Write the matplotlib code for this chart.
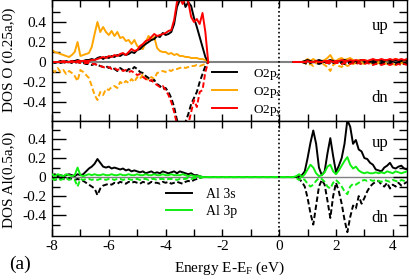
import numpy as np
import matplotlib
matplotlib.use('Agg')
import matplotlib.pyplot as plt
from matplotlib.ticker import FixedLocator

plt.rcParams['font.family'] = ['Liberation Serif', 'DejaVu Serif']
plt.rcParams['mathtext.fontset'] = 'custom'
plt.rcParams['mathtext.rm'] = 'Liberation Serif'
plt.rcParams['mathtext.it'] = 'Liberation Serif'
plt.rcParams['axes.unicode_minus'] = False

# ---------------- data ----------------
E_val = np.round(np.arange(-8.0, -2.45, 0.1), 1)   # valence grid (56 pts)
E_con = np.round(np.arange(0.5, 4.55, 0.1), 1)     # conduction grid (41 pts)

# O 2p, spin up / down, valence band
o2pz_up = [0.00,0.00,0.00,0.01,0.00,0.01,0.00,0.01,0.01,0.02,
           0.01,0.01,0.02,0.02,0.03,0.02,0.04,0.05,0.03,0.05,
           0.04,0.06,0.05,0.07,0.06,0.08,0.07,0.08,0.10,0.09,
           0.12,0.13,0.16,0.18,0.20,0.22,0.23,0.26,0.25,0.29,
           0.27,0.28,0.30,0.38,0.55,0.62,0.65,0.55,0.60,0.56,
           0.44,0.35,0.25,0.15,0.05,0.00]
o2px_up = [0.12,0.10,0.09,0.08,0.07,0.06,0.05,0.07,0.10,0.20,
           0.06,0.07,0.08,0.09,0.15,0.28,0.40,0.30,0.35,0.30,
           0.27,0.31,0.26,0.30,0.24,0.25,0.21,0.22,0.18,0.22,
           0.16,0.14,0.13,0.20,0.26,0.22,0.25,0.14,0.11,0.10,
           0.10,0.08,0.09,0.07,0.08,0.06,0.06,0.05,0.05,0.04,
           0.04,0.04,0.03,0.03,0.02,0.00]
o2py_up = [0.00,0.00,0.00,0.00,0.01,0.00,0.00,0.01,0.00,0.01,
           0.01,0.01,0.01,0.01,0.02,0.02,0.03,0.04,0.05,0.04,
           0.06,0.05,0.07,0.06,0.08,0.09,0.07,0.10,0.13,0.11,
           0.12,0.16,0.18,0.21,0.22,0.25,0.28,0.26,0.27,0.28,
           0.29,0.31,0.32,0.42,0.60,0.64,0.58,0.64,0.60,0.45,
           0.40,0.43,0.38,0.49,0.30,0.00]
o2pz_dn = [0.00,-0.01,0.00,-0.01,0.00,-0.01,0.00,-0.01,-0.01,0.00,
           -0.01,-0.01,-0.02,-0.02,-0.03,-0.02,-0.03,-0.04,-0.05,-0.04,
           -0.06,-0.05,-0.07,-0.09,-0.06,-0.08,-0.10,-0.07,-0.08,-0.05,
           -0.07,-0.10,-0.11,-0.14,-0.16,-0.19,-0.18,-0.22,-0.24,-0.27,
           -0.26,-0.30,-0.36,-0.45,-0.58,-0.65,-0.62,-0.60,-0.52,-0.42,
           -0.36,-0.30,-0.20,-0.12,-0.04,0.00]
o2px_dn = [-0.08,-0.10,-0.06,-0.10,-0.08,-0.12,-0.09,-0.11,-0.14,-0.19,
           -0.08,-0.10,-0.13,-0.16,-0.24,-0.33,-0.38,-0.30,-0.33,-0.27,
           -0.28,-0.25,-0.24,-0.26,-0.20,-0.22,-0.19,-0.21,-0.17,-0.20,
           -0.15,-0.17,-0.12,-0.16,-0.18,-0.15,-0.17,-0.11,-0.10,-0.09,
           -0.10,-0.08,-0.09,-0.07,-0.07,-0.06,-0.05,-0.06,-0.05,-0.04,
           -0.04,-0.03,-0.04,-0.03,-0.02,0.00]
o2py_dn = [0.00,0.00,0.00,0.00,0.00,-0.01,0.00,0.00,-0.01,0.00,
           -0.01,-0.01,-0.01,-0.01,-0.02,-0.02,-0.03,-0.04,-0.05,-0.06,
           -0.05,-0.07,-0.06,-0.08,-0.07,-0.09,-0.08,-0.10,-0.09,-0.11,
           -0.13,-0.12,-0.15,-0.17,-0.19,-0.18,-0.21,-0.23,-0.25,-0.24,
           -0.28,-0.33,-0.40,-0.50,-0.62,-0.60,-0.64,-0.58,-0.62,-0.50,
           -0.38,-0.45,-0.30,-0.28,-0.10,0.00]

# O 2p, conduction band
o2pz_up_c = [0.00,0.00,0.00,0.00,0.01,0.02,0.01,0.00,0.01,0.02,
             0.01,0.00,0.01,0.02,0.01,0.00,0.01,0.01,0.02,0.01,
             0.01,0.00,0.01,0.01,0.02,0.01,0.01,0.00,0.01,0.01,
             0.02,0.01,0.01,0.02,0.01,0.01,0.02,0.01,0.01,0.02,
             0.01]
o2pz_dn_c = [0.00,0.00,0.00,0.00,-0.01,-0.02,-0.01,0.00,-0.01,-0.02,
             -0.01,0.00,-0.01,-0.02,-0.01,0.00,-0.01,-0.01,-0.02,-0.01,
             -0.01,0.00,-0.01,-0.01,-0.02,-0.01,-0.01,0.00,-0.01,-0.01,
             -0.02,-0.01,-0.01,-0.02,-0.01,-0.01,-0.02,-0.01,-0.01,-0.02,
             -0.01]
o2px_up_c = [0.00,0.00,0.00,0.00,0.01,0.03,0.01,0.03,0.01,0.00,
             0.01,0.02,0.04,0.07,0.02,0.01,0.03,0.04,0.02,0.03,
             0.04,0.02,0.01,0.02,0.01,0.02,0.01,0.01,0.02,0.01,
             0.01,0.02,0.01,0.02,0.01,0.02,0.03,0.02,0.01,0.02,
             0.01]
o2px_dn_c = [0.00,0.00,0.00,0.00,-0.01,-0.03,-0.02,-0.04,-0.01,0.00,
             -0.01,-0.03,-0.05,-0.09,-0.03,-0.01,-0.04,-0.05,-0.02,-0.04,
             -0.03,-0.02,-0.01,-0.02,-0.01,-0.02,-0.01,-0.01,-0.02,-0.01,
             -0.01,-0.02,-0.01,-0.02,-0.01,-0.02,-0.03,-0.02,-0.01,-0.02,
             -0.01]
o2py_up_c = [0.00,0.00,0.00,0.00,0.00,0.01,0.00,0.00,0.01,0.00,
             0.00,0.01,0.01,0.01,0.00,0.01,0.01,0.02,0.01,0.01,
             0.02,0.01,0.02,0.01,0.02,0.02,0.01,0.02,0.03,0.02,
             0.02,0.03,0.02,0.02,0.03,0.02,0.03,0.02,0.03,0.02,
             0.03]
o2py_dn_c = [0.00,0.00,0.00,0.00,0.00,-0.01,0.00,0.00,-0.01,0.00,
             0.00,-0.01,-0.01,-0.01,0.00,-0.01,-0.01,-0.02,-0.01,-0.01,
             -0.02,-0.01,-0.02,-0.01,-0.02,-0.02,-0.01,-0.02,-0.03,-0.02,
             -0.02,-0.03,-0.02,-0.02,-0.03,-0.02,-0.03,-0.02,-0.03,-0.02,
             -0.03]

# Al 3s / 3p, valence band
al3s_up = [0.02,0.03,0.01,0.02,0.01,0.02,0.03,0.02,0.01,0.03,
           0.02,0.03,0.06,0.09,0.11,0.14,0.19,0.15,0.11,0.10,
           0.11,0.09,0.10,0.09,0.08,0.09,0.07,0.08,0.06,0.07,
           0.06,0.05,0.06,0.04,0.05,0.06,0.04,0.05,0.04,0.06,
           0.05,0.04,0.05,0.06,0.04,0.06,0.05,0.04,0.03,0.04,
           0.02,0.02,0.01,0.00,0.00,0.00]
al3s_dn = [-0.01,-0.03,-0.02,-0.01,-0.02,-0.03,-0.01,-0.02,-0.03,-0.02,
           -0.03,-0.04,-0.06,-0.08,-0.10,-0.12,-0.19,-0.12,-0.09,-0.08,
           -0.07,-0.08,-0.06,-0.07,-0.05,-0.06,-0.07,-0.05,-0.06,-0.05,
           -0.06,-0.07,-0.05,-0.06,-0.07,-0.05,-0.06,-0.06,-0.07,-0.05,
           -0.06,-0.05,-0.07,-0.06,-0.05,-0.06,-0.07,-0.05,-0.04,-0.05,
           -0.03,-0.02,-0.01,0.00,0.00,0.00]
al3p_up = [0.03,0.01,0.03,0.02,0.01,0.03,0.02,0.01,0.02,0.10,
           0.02,0.01,0.02,0.03,0.02,0.03,0.02,0.02,0.03,0.02,
           0.02,0.03,0.02,0.02,0.03,0.02,0.02,0.03,0.02,0.02,
           0.03,0.02,0.02,0.03,0.02,0.02,0.03,0.02,0.02,0.03,
           0.02,0.02,0.03,0.02,0.02,0.02,0.03,0.02,0.01,0.02,
           0.01,0.01,0.01,0.00,0.00,0.00]
al3p_dn = [-0.02,-0.03,-0.01,-0.03,-0.02,-0.01,-0.03,-0.02,-0.03,-0.10,
           -0.02,-0.03,-0.02,-0.02,-0.03,-0.02,-0.03,-0.02,-0.02,-0.03,
           -0.02,-0.02,-0.03,-0.02,-0.02,-0.03,-0.02,-0.02,-0.03,-0.02,
           -0.02,-0.03,-0.02,-0.02,-0.03,-0.02,-0.02,-0.03,-0.02,-0.02,
           -0.03,-0.02,-0.02,-0.02,-0.03,-0.02,-0.02,-0.02,-0.01,-0.02,
           -0.01,-0.01,-0.01,0.00,0.00,0.00]

# Al 3s / 3p, conduction band
al3s_up_c = [0.00,0.00,0.01,0.02,0.06,0.20,0.36,0.49,0.35,0.10,
             0.02,0.06,0.25,0.41,0.22,0.05,0.12,0.20,0.35,0.60,
             0.53,0.35,0.39,0.29,0.27,0.20,0.19,0.15,0.13,0.08,
             0.07,0.06,0.10,0.12,0.15,0.10,0.09,0.11,0.12,0.09,
             0.08]
al3s_dn_c = [0.00,0.00,-0.02,-0.05,-0.10,-0.22,-0.38,-0.50,-0.30,-0.10,
             -0.03,-0.08,-0.25,-0.43,-0.20,-0.06,-0.15,-0.28,-0.45,-0.58,
             -0.42,-0.30,-0.33,-0.20,-0.28,-0.22,-0.15,-0.10,-0.07,-0.05,
             -0.04,-0.08,-0.10,-0.06,-0.12,-0.08,-0.10,-0.06,-0.09,-0.07,
             -0.05]
al3p_up_c = [0.00,0.01,0.03,0.00,0.03,0.08,0.13,0.10,0.04,0.01,
             0.02,0.05,0.11,0.13,0.06,0.03,0.07,0.12,0.17,0.21,
             0.13,0.09,0.11,0.07,0.05,0.04,0.05,0.04,0.04,0.05,
             0.04,0.05,0.04,0.06,0.05,0.04,0.06,0.05,0.04,0.05,
             0.06]
al3p_dn_c = [0.00,-0.01,-0.03,-0.01,-0.03,-0.07,-0.10,-0.08,-0.04,-0.01,
             -0.02,-0.05,-0.10,-0.12,-0.06,-0.03,-0.06,-0.10,-0.15,-0.18,
             -0.10,-0.07,-0.08,-0.06,-0.04,-0.03,-0.04,-0.03,-0.04,-0.03,
             -0.04,-0.05,-0.03,-0.04,-0.05,-0.03,-0.04,-0.05,-0.03,-0.04,
             -0.05]

xticks = [-8, -6, -4, -2, 0, 2, 4]
yticks = [-0.4, -0.2, 0.0, 0.2, 0.4]
yticklabels = ['-0.4', '-0.2', '0', '0.2', '0.4']

# ---------------- figure ----------------
W, H = 409, 280
fig = plt.figure(figsize=(W / 100, H / 100), dpi=100)
ax1 = fig.add_axes([52 / W, 1 - 121 / H, 355 / W, 121 / H])
ax2 = fig.add_axes([52 / W, 1 - 236 / H, 355 / W, 115 / H])

BLACK, ORANGE, RED, GREEN = '#000000', '#FFA500', '#FF0000', '#11EE11'
LW = 1.4
DASH = (2.8, 1.4)

# top panel
ax1.axhline(0, color='#808080', lw=1.5, zorder=1)
handles = []
for up, dn, upc, dnc, col in [(o2px_up, o2px_dn, o2px_up_c, o2px_dn_c, ORANGE),
                              (o2pz_up, o2pz_dn, o2pz_up_c, o2pz_dn_c, BLACK),
                              (o2py_up, o2py_dn, o2py_up_c, o2py_dn_c, RED)]:
    h, = ax1.plot(E_val, up, color=col, lw=LW, zorder=2)
    ax1.plot(E_con, upc, color=col, lw=LW, zorder=2)
    ax1.plot(E_val, dn, color=col, lw=LW, dashes=DASH, zorder=2)
    ax1.plot(E_con, dnc, color=col, lw=LW, dashes=DASH, zorder=2)
    handles.append(h)
h_x, h_z, h_y = handles

# bottom panel
E_all = np.concatenate([E_val, E_con])
ax2.axhline(0, color='#808080', lw=1.0, zorder=1)
h_s, = ax2.plot(E_all, al3s_up + al3s_up_c, color=BLACK, lw=LW, zorder=2)
ax2.plot(E_all, al3s_dn + al3s_dn_c, color=BLACK, lw=LW, dashes=DASH, zorder=2)
h_p, = ax2.plot(E_all, al3p_up + al3p_up_c, color=GREEN, lw=LW, zorder=3)
ax2.plot(E_all, al3p_dn + al3p_dn_c, color=GREEN, lw=LW, dashes=DASH, zorder=3)

for ax, ylim in [(ax1, (-0.59, 0.62)), (ax2, (-0.62, 0.59))]:
    ax.axvline(0, color='k', ls=(0, (1, 1.5)), lw=1.2, zorder=4)
    ax.set_xlim(-8, 4.5)
    ax.set_ylim(*ylim)
    ax.set_xticks(xticks)
    ax.xaxis.set_minor_locator(FixedLocator([-7, -5, -3, -1, 1, 3]))
    ax.set_yticks(yticks)
    ax.set_yticklabels(yticklabels)
    ax.yaxis.set_minor_locator(FixedLocator([-0.5, -0.3, -0.1, 0.1, 0.3, 0.5]))
    ax.tick_params(axis='both', which='both', direction='in', top=True, right=True,
                   labelsize=11, width=1.0, pad=4)
    ax.tick_params(axis='x', which='both', length=5, pad=3)
    ax.tick_params(axis='y', which='major', length=10)
    ax.tick_params(axis='y', which='minor', length=6)
    for s in ax.spines.values():
        s.set_linewidth(1.0)
ax1.tick_params(axis='x', labelbottom=False)

# legends
ax1.legend([h_z, h_x, h_y], [r'O2p$_z$', r'O2p$_x$', r'O2p$_y$'],
           loc='upper left', bbox_to_anchor=(212 / W, 1 - 67 / H),
           bbox_transform=fig.transFigure, frameon=False, fontsize=9.5,
           handlelength=1.9, handletextpad=1.2, labelspacing=0.22,
           borderpad=0, borderaxespad=0)
ax2.legend([h_s, h_p], ['Al 3s', 'Al 3p'],
           loc='upper left', bbox_to_anchor=(166 / W, 1 - 188 / H),
           bbox_transform=fig.transFigure, frameon=False, fontsize=10,
           handlelength=1.9, handletextpad=1.0, labelspacing=0.3,
           borderpad=0, borderaxespad=0)

# texts
fig.text(9 / W, 1 - 60 / H, 'DOS O (0.25a,0)', rotation=90, ha='center', va='center', fontsize=11)
fig.text(9 / W, 1 - 180 / H, 'DOS Al(0.5a,0)', rotation=90, ha='center', va='center', fontsize=11)
fig.text(230 / W, 1 - 268 / H, r'Energy E-E$_\mathrm{F}$ (eV)', ha='center', va='center', fontsize=11)
fig.text(20 / W, 1 - 264 / H, '(a)', ha='center', va='center', fontsize=14)
for y, s in [(26, 'up'), (98, 'dn'), (143, 'up'), (218, 'dn')]:
    fig.text(380 / W, 1 - y / H, s, ha='center', va='center', fontsize=12)

fig.savefig('out.png', dpi=100)
